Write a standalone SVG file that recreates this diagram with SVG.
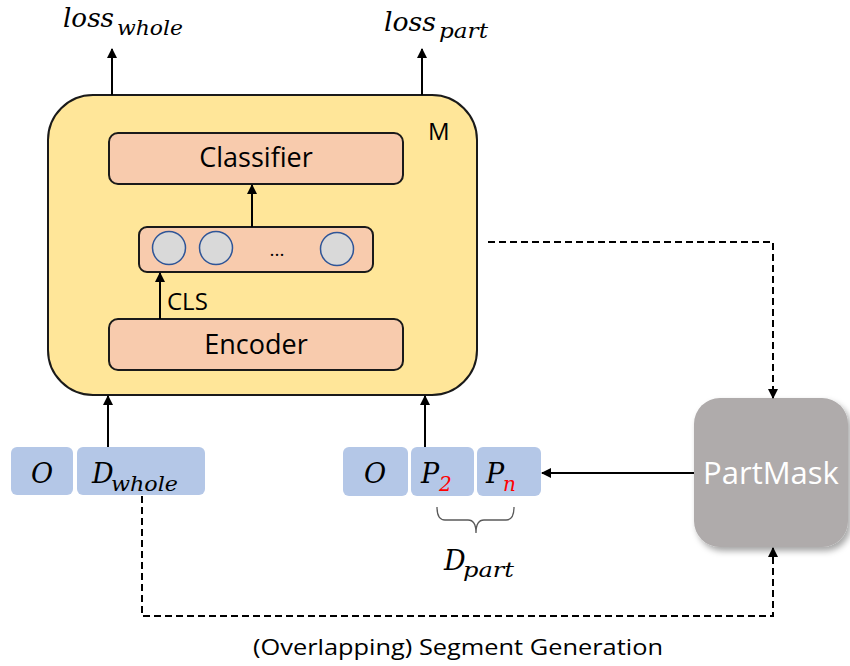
<svg xmlns="http://www.w3.org/2000/svg" width="850" height="666" viewBox="0 0 850 666">
<defs>
<marker id="ah" viewBox="0 0 10 10" refX="9" refY="5" markerWidth="5" markerHeight="5" orient="auto-start-reverse" markerUnits="strokeWidth">
<path d="M0,0 L10,5 L0,10 z" fill="#000"/>
</marker>
<filter id="sh" x="-20%" y="-20%" width="150%" height="150%">
<feDropShadow dx="3" dy="4" stdDeviation="3" flood-color="#000" flood-opacity="0.35"/>
</filter>
<style>
.sans{font-family:"Open Sans","Noto Sans","DejaVu Sans",sans-serif;fill:#000}
.math{font-family:"DejaVu Serif","Liberation Serif",serif;font-style:italic;fill:#000}
.red{fill:#FF0000}
.orange{fill:#F8CBAD;stroke:#1a1a1a;stroke-width:2}
.blue{fill:#B4C7E7}
.circ{fill:#D9D9D9;stroke:#2F5597;stroke-width:1.5}
.arr{stroke:#000;stroke-width:2;fill:none;marker-end:url(#ah)}
.dash{stroke:#000;stroke-width:2;fill:none;stroke-dasharray:7 4;marker-end:url(#ah)}
</style>
</defs>
<rect width="850" height="666" fill="#fff"/>

<g id="model">
<rect x="48" y="95" width="429" height="300" rx="45" fill="#FFE699" stroke="#1a1a1a" stroke-width="2"/>
<text class="sans" x="428" y="140" font-size="24">M</text>
</g>

<g id="classifier">
<rect class="orange" x="109" y="133" width="294" height="51" rx="9"/>
<text class="sans" x="256" y="167" font-size="27" text-anchor="middle">Classifier</text>
</g>

<g id="vector">
<rect class="orange" x="139" y="227" width="234" height="45" rx="8"/>
<circle class="circ" cx="169" cy="248" r="16.5"/>
<circle class="circ" cx="216" cy="248" r="16.5"/>
<circle class="circ" cx="337" cy="249" r="16.5"/>
<text class="sans" x="277" y="256" font-size="19" text-anchor="middle">...</text>
</g>

<g id="encoder">
<rect class="orange" x="109" y="319" width="294" height="51" rx="9"/>
<text class="sans" x="256" y="354" font-size="27" text-anchor="middle">Encoder</text>
</g>

<g id="cls-label">
<text class="sans" x="167" y="310" font-size="24">CLS</text>
</g>

<g id="loss-whole">
<text class="math" x="63" y="27" font-size="26" textLength="51" lengthAdjust="spacingAndGlyphs">loss</text>
<text class="math" x="117" y="35" font-size="20" textLength="66" lengthAdjust="spacingAndGlyphs">whole</text>
</g>

<g id="loss-part">
<text class="math" x="384" y="31" font-size="26" textLength="52" lengthAdjust="spacingAndGlyphs">loss</text>
<text class="math" x="439" y="38" font-size="20" textLength="49" lengthAdjust="spacingAndGlyphs">part</text>
</g>

<g id="whole-input">
<rect class="blue" x="11" y="447" width="62" height="48" rx="6"/>
<text class="math" x="42" y="483" font-size="27" text-anchor="middle">O</text>
<rect class="blue" x="77" y="447" width="128" height="48" rx="6"/>
<text class="math" x="92" y="483" font-size="27">D</text>
<text class="math" x="111" y="491" font-size="20" textLength="67" lengthAdjust="spacingAndGlyphs">whole</text>
</g>

<g id="part-input">
<rect class="blue" x="343" y="447" width="65" height="49" rx="6"/>
<text class="math" x="375" y="483" font-size="27" text-anchor="middle">O</text>
<rect class="blue" x="411" y="447" width="63" height="49" rx="6"/>
<text class="math" x="421" y="483" font-size="27">P</text>
<text class="math red" x="439" y="491" font-size="20">2</text>
<rect class="blue" x="477" y="447" width="64" height="49" rx="6"/>
<text class="math" x="486" y="483" font-size="27">P</text>
<text class="math red" x="503" y="491" font-size="20">n</text>
</g>

<g id="d-part">
<path d="M437,507 Q437,520 445,520 L468,520 Q476,520 476,533 Q476,520 484,520 L506,520 Q514,520 514,507" fill="none" stroke="#595959" stroke-width="1.3"/>
<text class="math" x="444" y="570" font-size="27">D</text>
<text class="math" x="463" y="577" font-size="20" textLength="51" lengthAdjust="spacingAndGlyphs">part</text>
</g>

<g id="partmask">
<rect x="694" y="398" width="154" height="149" rx="26" fill="#AFABAB" filter="url(#sh)"/>
<text x="771" y="484" font-size="31" text-anchor="middle" font-family="'Open Sans','Noto Sans',sans-serif" fill="#fff">PartMask</text>
</g>

<g id="segment-label">
<text class="sans" x="458" y="655" font-size="21" text-anchor="middle" textLength="410" lengthAdjust="spacingAndGlyphs">(Overlapping) Segment Generation</text>
</g>

<g id="connectors">
<line class="arr" x1="112" y1="95" x2="112" y2="49"/>
<line class="arr" x1="422" y1="95" x2="422" y2="49"/>
<line class="arr" x1="252" y1="227" x2="252" y2="185"/>
<line class="arr" x1="160" y1="319" x2="160" y2="273"/>
<line class="arr" x1="108" y1="447" x2="108" y2="396"/>
<line class="arr" x1="425" y1="447" x2="425" y2="396"/>
<line class="arr" x1="694" y1="473" x2="542" y2="473"/>
<polyline class="dash" points="488,242 773,242 773,398"/>
<polyline class="dash" points="142,496 142,616 773,616 773,548"/>
</g>
</svg>
